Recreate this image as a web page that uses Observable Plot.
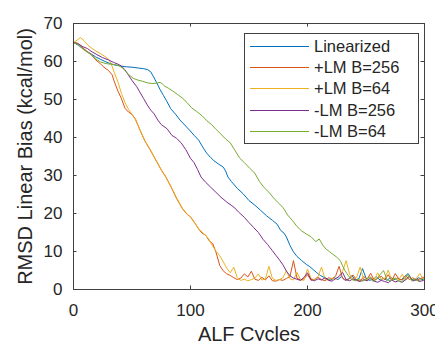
<!DOCTYPE html>
<html>
<head>
<meta charset="utf-8">
<script src="https://cdn.jsdelivr.net/npm/d3@7"></script>
<script src="https://cdn.jsdelivr.net/npm/@observablehq/plot@0.6"></script>
<style>
  html, body { margin: 0; padding: 0; background: #fff; overflow: hidden; }
  #wrap { position: relative; width: 435px; height: 341px; font-family: "Liberation Sans", Arial, Helvetica, sans-serif; }
  #legend { position: absolute; left: 244px; top: 33px; width: 175px; height: 111px; border: 1px solid #404040; background: #fff; box-sizing: border-box; padding-top: 2px; }
  .row { height: 21.2px; display: flex; align-items: center; font-size: 16.5px; color: #262626; }
  .sw { width: 59px; height: 0; border-top: 1px solid; margin-left: 5px; margin-right: 5px; }
</style>
</head>
<body>
<div id="wrap"><div id="legend"></div></div>
<script>
// ---- data ----
const seriesNames = ["Linearized", "+LM B=256", "+LM B=64", "-LM B=256", "-LM B=64"];
const seriesColors = ["#0072BD", "#D95319", "#EDB120", "#7E2F8E", "#77AC30"];
const xTicks = [0, 100, 200, 300];
const yTicks = [0, 10, 20, 30, 40, 50, 60, 70];

const linearized = [
 [0,65],[4,64.3],[8,63.4],[12,62.5],[15,62],[19,61.2],[23,60.6],[27,60],[31,59.5],[35,59.1],[40,58.8],[45,58.6],[50,58.5],[55,58.3],[60,58.1],[63,57.9],[66,57.3],[68,56.2],[71,54.5],[74,52.6],[77,51],[80,49.4],[83,47.6],[87,46.2],[91,44.6],[95,43.3],[99,42],[103,40.6],[107,39.3],[111,37.2],[114,35.8],[117,34.8],[120,33.9],[124,33],[128,32.2],[130,31.2],[132,29.6],[135,28.4],[140,26.6],[145,25.2],[150,23.4],[155,22.2],[160,20.8],[165,19.4],[170,18.2],[174,17.2],[177,15.6],[180,14.8],[182,13.8],[185,11.6],[188,9.9],[191,8.7],[195,7.6],[199,6.6],[202,6.0],[205,5.2],[208,4.4],[211,3.7],[214,3.2],[217,2.8],
 [220,2.5],[223,3.1],[226,2.6],[229,3.4],[232,2.4],[235,2.8],[238,3.6],[241,2.5],[244,2.9],[247,5.5],[250,3.0],[253,2.4],[256,2.7],[259,3.3],[262,2.5],[265,2.9],[268,2.4],[271,3.2],[274,2.6],[277,3.0],[280,2.5],[283,3.4],[286,4.2],[289,2.7],[292,2.4],[295,3.1],[298,2.6],[300,2.8]
];

const plusLM256 = [
 [0,65],[3,64.9],[6,64.3],[9,63.3],[12,62.6],[15,61.9],[19,60.4],[23,59.4],[26,58.5],[30,57.6],[33,56.5],[35,54.6],[38,52.2],[41,50.2],[44,47.7],[47,46.7],[50,46.1],[53,44.8],[57,41.8],[61,39.1],[66,36.5],[70,34.3],[75,31.5],[79,29.6],[84,26.6],[88,24],[93,21.3],[97,19.8],[100,19.1],[104,17.4],[107,15.9],[110,14.8],[113,14.3],[116,12.8],[119,12.1],[122,9.6],[125,6.3],[128,4.9],[131,4.1],[134,3.7],
 [137,3.1],[140,2.6],[143,3.0],[146,4.1],[149,3.3],[152,4.8],[155,2.7],[158,2.4],[161,3.2],[164,2.5],[167,3.6],[170,2.3],[173,2.2],[176,2.6],[179,2.4],[182,2.9],[185,3.4],[188,7.6],[191,3.0],[194,2.5],[197,2.8],[200,3.9],[203,2.4],[206,2.7],[209,3.2],[212,2.6],[215,2.3],[218,3.1],[221,2.8],[224,3.5],[227,6.1],[230,3.0],[233,2.4],[236,2.9],[239,3.8],[242,2.5],[245,2.2],[248,3.4],[251,2.7],[254,4.3],[257,2.4],[260,2.9],[263,3.5],[266,2.6],[269,3.9],[272,2.3],[275,4.2],[278,2.8],[281,2.5],[284,3.7],[287,2.6],[290,3.1],[293,2.4],[296,2.8],[299,3.3],[300,2.9]
];

const plusLM64 = [
 [0,65],[3,65.6],[6,66.3],[9,65.5],[12,64.4],[15,63.6],[19,62.8],[23,62.1],[27,61.3],[30,60.6],[32,59.6],[35,57],[38,54.6],[41,51.6],[44,49.2],[47,47.4],[50,46.1],[53,44.6],[57,41.9],[61,39.2],[66,36.6],[70,34.2],[75,31.4],[79,29.5],[84,26.7],[88,24.2],[93,21.4],[97,19.9],[100,19],[104,17.3],[107,16],[110,15.1],[113,14.2],[116,13.1],[119,11.4],[122,10],[125,8.9],[128,7.3],[131,5.6],[134,4.4],
 [137,5.9],[140,3.1],[143,2.4],[146,2.7],[149,2.3],[152,2.6],[155,3.0],[158,4.1],[161,2.5],[164,2.8],[167,6.1],[170,2.9],[173,2.4],[176,2.6],[179,3.1],[182,5.0],[185,2.8],[188,2.5],[191,4.5],[194,2.6],[197,2.4],[200,5.4],[203,2.9],[206,2.5],[209,3.4],[212,5.9],[215,2.7],[218,2.4],[221,3.0],[224,2.6],[227,3.6],[230,4.8],[233,7.6],[236,4.0],[239,2.6],[242,3.2],[245,5.9],[248,2.7],[251,2.4],[254,3.3],[257,2.5],[260,4.4],[263,2.6],[266,2.9],[269,5.1],[272,2.4],[275,3.1],[278,2.6],[281,4.0],[284,2.5],[287,3.4],[290,2.3],[293,2.9],[296,4.2],[299,2.7],[300,2.6]
];

const minusLM256 = [
 [0,65],[4,64.6],[8,63.9],[12,63.4],[15,62.7],[20,61.8],[25,61],[30,60.4],[34,59.8],[38,59.3],[41,58.8],[44,57.8],[47,56.4],[50,55],[54,53.4],[57,51.8],[60,50.2],[63,48.6],[66,47.2],[69,46.2],[72,44.6],[75,43.4],[80,42.3],[84,40.6],[88,39.8],[92,38.6],[96,36.8],[100,34.5],[103,33.4],[106,31.6],[109,29.6],[113,28.2],[117,27],[121,25.8],[126,24.3],[131,23],[137,21.7],[141,20.4],[146,19],[150,17.6],[154,16.3],[158,15],[162,13.2],[166,11.8],[170,10.2],[173,9],[176,7.8],[179,6.5],[182,4.8],[185,3.6],[188,3.0],
 [191,2.7],[194,2.4],[197,3.2],[200,4.4],[203,2.6],[206,2.3],[209,2.8],[212,2.5],[215,3.1],[218,2.4],[221,2.2],[224,2.9],[227,3.4],[230,4.5],[233,2.6],[236,2.3],[239,2.8],[242,2.4],[245,2.1],[248,2.6],[251,2.3],[254,3.0],[257,2.2],[260,1.9],[263,2.4],[266,2.1],[269,1.8],[272,2.5],[275,2.0],[278,2.3],[281,1.9],[284,2.6],[287,3.5],[290,2.2],[293,2.7],[296,2.1],[299,2.4],[300,2.3]
];

const minusLM64 = [
 [0,65],[4,64.4],[8,63.3],[12,62.4],[15,61.8],[19,60.7],[23,59.9],[27,59.5],[31,59.3],[35,59.2],[39,58.9],[43,58],[47,56.6],[51,55.6],[55,55.1],[59,54.8],[63,54.4],[67,54.2],[71,54.3],[74,54.5],[76,54.1],[78,53.5],[81,53],[85,52.2],[89,51.3],[93,50.4],[97,49.2],[101,47.8],[105,46.9],[110,45.7],[114,44.4],[118,43.4],[122,42.1],[126,40.9],[130,39.6],[134,38.6],[138,36.6],[142,34.6],[146,33.4],[151,31.8],[155,30.6],[159,28.4],[163,26.8],[167,25.6],[171,24.1],[175,22.8],[179,21.6],[183,19.6],[187,18.2],[191,16.6],[195,15.4],[199,14.6],[203,13.9],[207,12.6],[210,13.3],[213,11.7],[216,10.6],[219,9.9],[222,9.2],[225,8.5],[228,7.6],[230,6.2],[232,5.0],[235,3.6],[238,2.6],
 [241,2.3],[244,2.8],[247,2.2],[250,2.6],[253,3.3],[256,2.1],[259,2.7],[262,3.9],[265,5.0],[268,2.6],[271,2.2],[274,2.9],[277,2.4],[280,1.9],[283,2.7],[286,4.0],[289,2.3],[292,2.8],[295,2.1],[298,2.9],[300,2.5]
];

// ---- build the table ----
const seriesData = [linearized, plusLM256, plusLM64, minusLM256, minusLM64];
const rows = seriesData.flatMap((arr, i) => arr.map(([c, v]) => ({series: seriesNames[i], cycle: c, rmsd: v})));

const W = 435, H = 341, mL = 73, mR = 11, mT = 23, mB = 52;
const innerH = H - mT - mB, innerW = W - mL - mR;
const tickLen = 3.5;
const ink = "#262626";
const axisInk = "#404040";

const chart = Plot.plot({
  width: W, height: H,
  marginLeft: mL, marginRight: mR, marginTop: mT, marginBottom: mB,
  style: {fontFamily: '"Liberation Sans", Arial, Helvetica, sans-serif', background: "transparent", color: ink},
  x: {domain: [0, 300]},
  y: {domain: [0, 70]},
  color: {domain: seriesNames, range: seriesColors},
  marks: [
    Plot.line(rows, {x: "cycle", y: "rmsd", z: "series", stroke: "series", strokeWidth: 1}),
    Plot.frame({stroke: axisInk, strokeWidth: 1}),
    Plot.ruleX(xTicks, {x: d => d, insetTop: innerH - tickLen, stroke: axisInk}),
    Plot.ruleX(xTicks, {x: d => d, insetBottom: innerH - tickLen, stroke: axisInk}),
    Plot.ruleY(yTicks, {y: d => d, insetRight: innerW - tickLen, stroke: axisInk}),
    Plot.ruleY(yTicks, {y: d => d, insetLeft: innerW - tickLen, stroke: axisInk}),
    Plot.axisX({ticks: xTicks, tickSize: 0, tickPadding: 14, fontSize: 17, label: null, tickFormat: d => String(d), fill: ink}),
    Plot.axisY({ticks: yTicks, tickSize: 0, tickPadding: 11, fontSize: 17, label: null, tickFormat: d => String(d), fill: ink}),
    Plot.text(["ALF Cycles"], {text: d => d, frameAnchor: "bottom", textAnchor: "middle", lineAnchor: "bottom", dy: 51.5, fontSize: 20, fill: ink}),
    Plot.text(["RMSD Linear Bias (kcal/mol)"], {text: d => d, frameAnchor: "left", textAnchor: "middle", lineAnchor: "middle", rotate: -90, dx: -48, fontSize: 20, fill: ink})
  ]
});
const wrap = document.getElementById("wrap");
wrap.insertBefore(chart, wrap.firstChild);

// ---- legend (HTML overlay, inside the axes box like the reference) ----
const legend = document.getElementById("legend");
seriesNames.forEach((name, i) => {
  const row = document.createElement("div");
  row.className = "row";
  const sw = document.createElement("span");
  sw.className = "sw";
  sw.style.borderTopColor = seriesColors[i];
  const label = document.createElement("span");
  label.textContent = name;
  row.appendChild(sw);
  row.appendChild(label);
  legend.appendChild(row);
});
</script>
</body>
</html>
